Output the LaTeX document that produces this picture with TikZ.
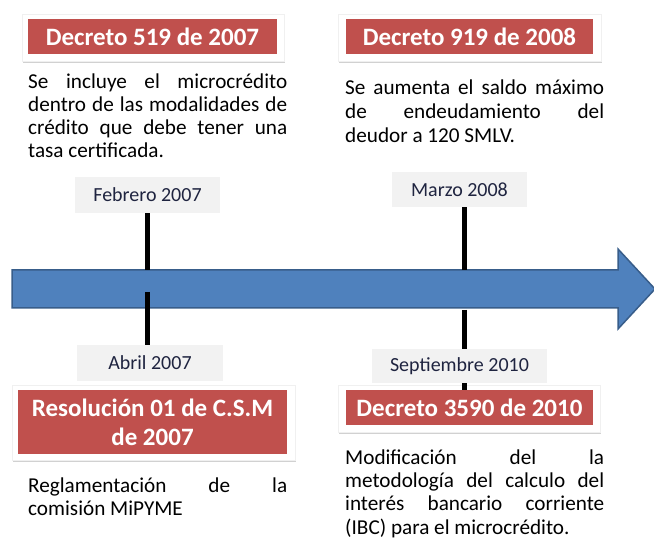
\documentclass[tikz,border=0pt]{standalone}
\usepackage{fontspec}
\setmainfont{Carlito}
\usetikzlibrary{shadows}
\definecolor{hdrred}{HTML}{C0504D}
\definecolor{barblue}{HTML}{4F81BD}
\definecolor{barline}{HTML}{385D8A}
\definecolor{datebg}{HTML}{F2F2F2}
\definecolor{datetext}{HTML}{1F2440}
\hyphenpenalty=10000
\tolerance=10000
\begin{document}
\begin{tikzpicture}[x=1pt,y=-1pt,
  outerbox/.style={draw=black!6, fill=white, inner sep=0pt,
    drop shadow={shadow xshift=1pt, shadow yshift=-2pt, opacity=0.3, fill=black!60}},
  redbox/.style={fill=hdrred, text=white, inner sep=0pt, align=center,
    font=\bfseries\fontsize{25}{29}\selectfont},
  datebox/.style={fill=datebg, text=datetext, inner sep=0pt,
    font=\fontsize{20}{24}\selectfont},
  bodytext/.style={anchor=base west, inner sep=0pt, text width=259pt, align=justify,
    font=\fontsize{21.2}{23.5}\selectfont},
  tick/.style={line width=5pt, draw=black},
  bar/.style={fill=barblue, draw=barline, line width=1.5pt, line join=miter}]
\useasboundingbox (0,0) rectangle (654,540);

% timeline bar
\draw[bar] (12,270) -- (618,270) -- (618,249) -- (655,289) -- (618,329) -- (618,308) -- (12,308) -- cycle;
\coordinate (k1u) at (147,270);
\coordinate (k1d) at (147,292);
\coordinate (k2u) at (464,270);
\coordinate (k2d) at (464,310);

% header boxes
\node[outerbox, minimum width=262pt, minimum height=47pt] (o1) at (153,37.5) {};
\node[redbox, minimum width=249pt, minimum height=35pt] (h1) at (152.5,36.5) {Decreto 519 de 2007};
\node[outerbox, minimum width=263pt, minimum height=47pt] (o2) at (469.5,37.5) {};
\node[redbox, minimum width=247pt, minimum height=35pt] (h2) at (469.5,36.5) {Decreto 919 de 2008};
\node[outerbox, minimum width=283pt, minimum height=75pt] (o3) at (153.5,422.5) {};
\node[redbox, minimum width=269pt, minimum height=64pt] (h3) at (152.5,422) {Resolución 01 de C.S.M\\de 2007};
\node[outerbox, minimum width=262pt, minimum height=47pt] (o4) at (469,408.5) {};
\node[redbox, minimum width=247pt, minimum height=35pt] (h4) at (469.5,407.5) {Decreto 3590 de 2010};

% date label positions
\coordinate (feb) at (147.5,195);
\coordinate (abr) at (150,363);
\coordinate (mar) at (459.5,189.5);
\coordinate (sep) at (459.5,366);

% ticks
\draw[tick] (147,213) -- (k1u);
\draw[tick] (k1d) -- (147,345);
\draw[tick] (464,207) -- (k2u);
\draw[tick] (k2d) -- (h4.north -| k2d);

% date boxes
\node[datebox, minimum width=145pt, minimum height=36pt] (d1) at (feb) {Febrero 2007};
\node[datebox, minimum width=146pt, minimum height=36pt] (d2) at (abr) {Abril 2007};
\node[datebox, minimum width=135pt, minimum height=35pt] (d3) at (mar) {Marzo 2008};
\node[datebox, minimum width=175pt, minimum height=34pt] (d4) at (sep) {Septiembre 2010};

% body texts
\node[bodytext, font=\fontsize{21.2}{23}\selectfont] (t1) at (28,89) {Se incluye el microcrédito\linebreak dentro de las modalidades de\linebreak crédito que debe tener una\linebreak tasa certificada.};
\node[bodytext, font=\fontsize{21.2}{24}\selectfont] (t2) at (345,95) {Se aumenta el saldo máximo\linebreak de endeudamiento del\linebreak deudor a 120 SMLV.};
\node[bodytext] (t3) at (28,492) {Reglamentación de la\linebreak comisión MiPYME};
\node[bodytext] (t4) at (345,464) {Modificación del la\linebreak metodología del calculo del\linebreak interés bancario corriente\linebreak (IBC) para el microcrédito.};
\end{tikzpicture}
\end{document}
